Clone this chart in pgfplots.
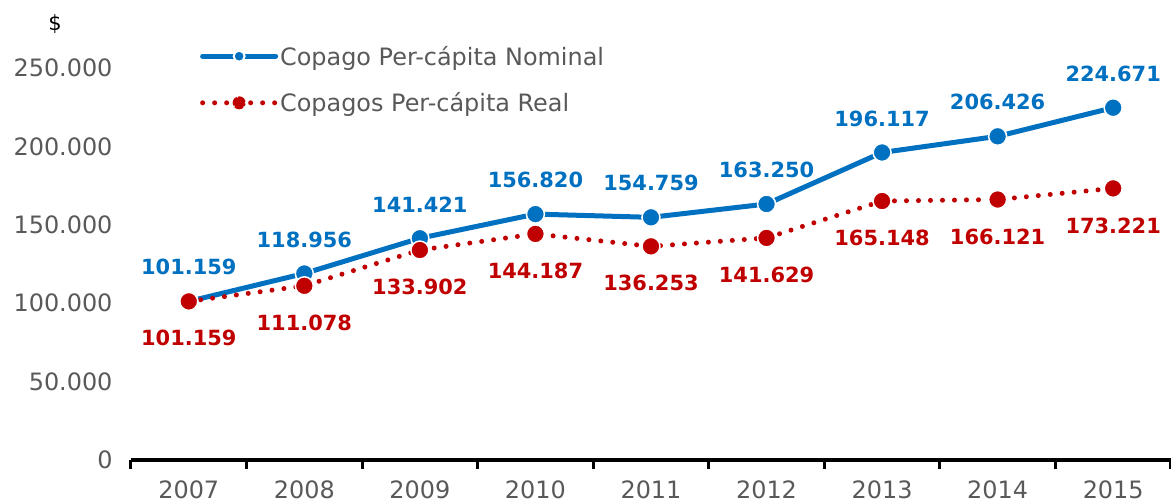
\documentclass[border=0pt]{standalone}
\usepackage{pgfplots}
\pgfplotsset{compat=1.18}
\usepackage{fontspec}
\setmainfont{DejaVu Sans}
\definecolor{nomblue}{HTML}{0070C0}
\definecolor{realred}{HTML}{C00000}
\definecolor{txtgray}{HTML}{595959}
\begin{document}
\begin{tikzpicture}
\begin{axis}[
  name=ax, at={(0,0)}, anchor=south west,
  scale only axis, width=1040bp, height=460bp,
  xmin=-0.5, xmax=8.5, ymin=0, ymax=293367,
  clip=false,
  axis x line*=bottom, axis y line*=left,
  x axis line style={line width=4bp, black},
  y axis line style={draw=none},
  xtick={0,1,2,3,4,5,6,7,8},
  xticklabels={2007,2008,2009,2010,2011,2012,2013,2014,2015},
  major tick length=0pt,
  major tick style={draw=none},
  minor xtick={-0.5,0.5,1.5,2.5,3.5,4.5,5.5,6.5,7.5,8.5},
  minor x tick style={line width=3bp, black},
  minor tick length=8.5bp, tick align=outside,
  ytick={0,50000,100000,150000,200000,250000},
  yticklabels={0,50.000,100.000,150.000,200.000,250.000},
  scaled y ticks=false,
  ticklabel style={font=\fontsize{24}{28}\selectfont, text=txtgray},
  yticklabel style={xshift=-15bp},
  xticklabel style={yshift=-17bp},
  legend cell align=left,
  legend style={at={(0.0663,0.905)}, anchor=north west, draw=none, fill=none,
    inner sep=0pt, row sep=22bp, font=\fontsize{24}{28}\selectfont, text=txtgray,
    nodes={inner sep=2bp}},
]
\addplot[nomblue, line width=5bp, mark=*, mark size=9bp,
  mark options={fill=nomblue, draw=white, line width=1.5bp},
  nodes near coords={\pgfplotspointmeta}, point meta=explicit symbolic,
  every node near coord/.style={font=\bfseries\fontsize{21}{25}\selectfont, text=nomblue, anchor=center, yshift=34bp},
  legend image code/.code={
    \draw[nomblue, line width=5bp, line cap=round] (0bp,0bp) -- (73bp,0bp);
    \filldraw[fill=nomblue, draw=white, line width=2bp] (36.5bp,0bp) circle (5.5bp);}
] table[meta=l] {
x y l
0 101159 101.159
1 118956 118.956
2 141421 141.421
3 156820 156.820
4 154759 154.759
5 163250 163.250
6 196117 196.117
7 206426 206.426
8 224671 224.671
};
\addlegendentry{Copago Per-cápita Nominal}
\addplot[realred, line width=5bp, line cap=round, dash pattern=on 0bp off 12bp,
  mark=*, mark size=9bp,
  mark options={solid, fill=realred, draw=white, line width=1.5bp},
  nodes near coords={\pgfplotspointmeta}, point meta=explicit symbolic,
  every node near coord/.style={font=\bfseries\fontsize{21}{25}\selectfont, text=realred, anchor=center, yshift=-37bp},
  legend image code/.code={
    \draw[realred, line width=5bp, line cap=round, dash pattern=on 0bp off 12bp] (0bp,0bp) -- (73bp,0bp);
    \filldraw[fill=realred, draw=white, line width=2bp] (36.5bp,0bp) circle (6.5bp);}
] table[meta=l] {
x y l
0 101159 101.159
1 111078 111.078
2 133902 133.902
3 144187 144.187
4 136253 136.253
5 141629 141.629
6 165148 165.148
7 166121 166.121
8 173221 173.221
};
\addlegendentry{Copagos Per-cápita Real}
\end{axis}
\node[font=\fontsize{21}{24}\selectfont, text=black] at (-76bp,436bp) {\$};
\pgfresetboundingbox
\path (-131bp,-42bp) rectangle (1040bp,460bp);
\end{tikzpicture}
\end{document}
